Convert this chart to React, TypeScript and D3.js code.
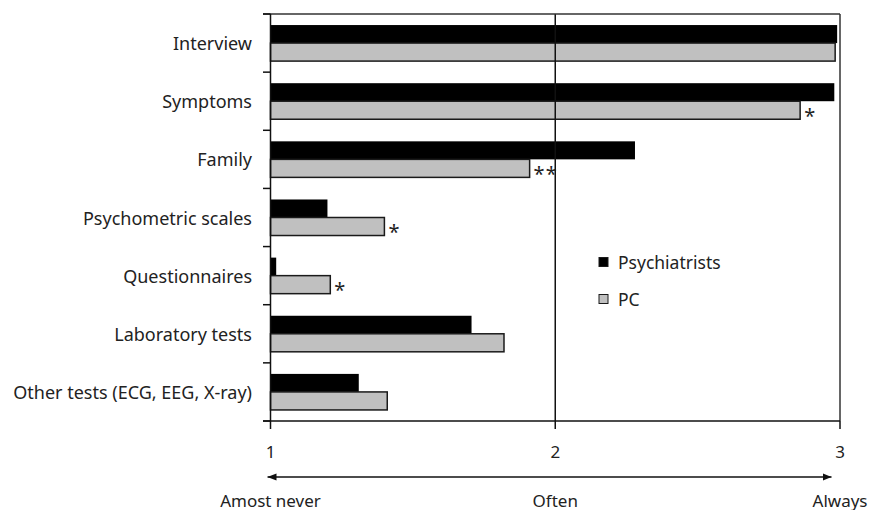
import React from "react";
import * as d3 from "d3";

const categories = [
  "Interview",
  "Symptoms",
  "Family",
  "Psychometric scales",
  "Questionnaires",
  "Laboratory tests",
  "Other tests (ECG, EEG, X-ray)",
];
const seriesNames = ["Psychiatrists", "PC"];
const psychiatrists = [2.99, 2.98, 2.28, 1.2, 1.02, 1.706, 1.31];
const pc = [2.983, 2.86, 1.91, 1.4, 1.21, 1.82, 1.41];
const pcMarks = ["", "*", "**", "*", "*", "", ""];
const xTicks = [1, 2, 3];
const scaleLabels = ["Amost never", "Often", "Always"];

const W = 870;
const H = 510;
const FONT = "'Noto Sans', sans-serif";

export default function App() {
  const x = d3.scaleLinear().domain([1, 3]).range([270.5, 840]);
  const y = d3.scaleBand<string>().domain(categories).range([14, 421]);
  const bw = y.bandwidth();
  const sub = d3
    .scaleBand<string>()
    .domain(seriesNames)
    .range([bw * 0.19, bw * 0.81]);
  const fills = ["#000000", "#c0c0c0"];
  const values = [psychiatrists, pc];
  const top = y.range()[0];
  const bottom = y.range()[1];
  const left = x(1);
  const right = x(3);
  const ticksY = [...categories.map((c) => y(c) as number), bottom];

  return (
    <svg width={W} height={H} style={{ position: "absolute", left: 0, top: 0, background: "#fff" }}>
      {/* bars */}
      {seriesNames.map((s, si) =>
        categories.map((c, ci) => (
          <rect
            key={s + c}
            x={left}
            y={(y(c) as number) + (sub(s) as number)}
            width={x(values[si][ci]) - left}
            height={sub.bandwidth()}
            fill={fills[si]}
            stroke={si === 1 ? "#1a1a1a" : "none"}
            strokeWidth={1.5}
          />
        ))
      )}
      {/* gridline at 2 */}
      <line x1={x(2)} x2={x(2)} y1={top} y2={bottom} stroke="#111" strokeWidth={1.5} />
      {/* box */}
      <line x1={263} x2={right} y1={top} y2={top} stroke="#333" strokeWidth={1.5} />
      <line x1={right} x2={right} y1={top} y2={bottom} stroke="#333" strokeWidth={1.5} />
      <line x1={left} x2={left} y1={top} y2={bottom} stroke="#111" strokeWidth={1.5} />
      <line x1={263} x2={right} y1={bottom} y2={bottom} stroke="#111" strokeWidth={1.5} />
      {ticksY.map((t, i) => (
        <line key={"ty" + i} x1={263} x2={left} y1={t} y2={t} stroke="#111" strokeWidth={1.5} />
      ))}
      {xTicks.map((t) => (
        <g key={"tx" + t}>
          <line x1={x(t)} x2={x(t)} y1={bottom} y2={bottom + 8} stroke="#111" strokeWidth={1.5} />
          <text x={x(t)} y={451} textAnchor="middle" dominantBaseline="central" fontFamily={FONT} fontSize={17} fill="#222">
            {t}
          </text>
        </g>
      ))}
      {/* category labels */}
      {categories.map((c) => (
        <text
          key={"l" + c}
          x={252}
          y={(y(c) as number) + bw / 2}
          textAnchor="end"
          dominantBaseline="central"
          fontFamily={FONT}
          fontSize={18}
          fill="#222"
        >
          {c}
        </text>
      ))}
      {/* significance marks */}
      {categories.map((c, ci) =>
        pcMarks[ci] ? (
          <text
            key={"m" + c}
            x={x(pc[ci]) + 4}
            y={(y(c) as number) + (sub("PC") as number) + sub.bandwidth() / 2 + 5}
            dominantBaseline="central"
            fontFamily={FONT}
            fontSize={20}
            letterSpacing={1}
            fill="#222"
          >
            {pcMarks[ci]}
          </text>
        ) : null
      )}
      {/* arrow */}
      <defs>
        <marker id="ah" viewBox="0 0 10 10" refX="10" refY="5" markerWidth="9" markerHeight="9" markerUnits="userSpaceOnUse" orient="auto-start-reverse">
          <path d="M0,1 L10,5 L0,9 z" fill="#111" />
        </marker>
      </defs>
      <line
        x1={267.5}
        x2={831.5}
        y1={477}
        y2={477}
        stroke="#111"
        strokeWidth={1.5}
        markerStart="url(#ah)"
        markerEnd="url(#ah)"
      />
      {xTicks.map((t, i) => (
        <text key={"s" + t} x={x(t)} y={500} textAnchor="middle" dominantBaseline="central" fontFamily={FONT} fontSize={17} fill="#222">
          {scaleLabels[i]}
        </text>
      ))}
      {/* legend */}
      {seriesNames.map((s, i) => (
        <g key={"lg" + s} transform={`translate(599, ${262 + i * 37})`}>
          <rect x={0} y={-4.5} width={9} height={9} fill={fills[i]} stroke="#1a1a1a" strokeWidth={1} />
          <text x={19} y={0} dominantBaseline="central" fontFamily={FONT} fontSize={17.5} fill="#222">
            {s}
          </text>
        </g>
      ))}
    </svg>
  );
}
